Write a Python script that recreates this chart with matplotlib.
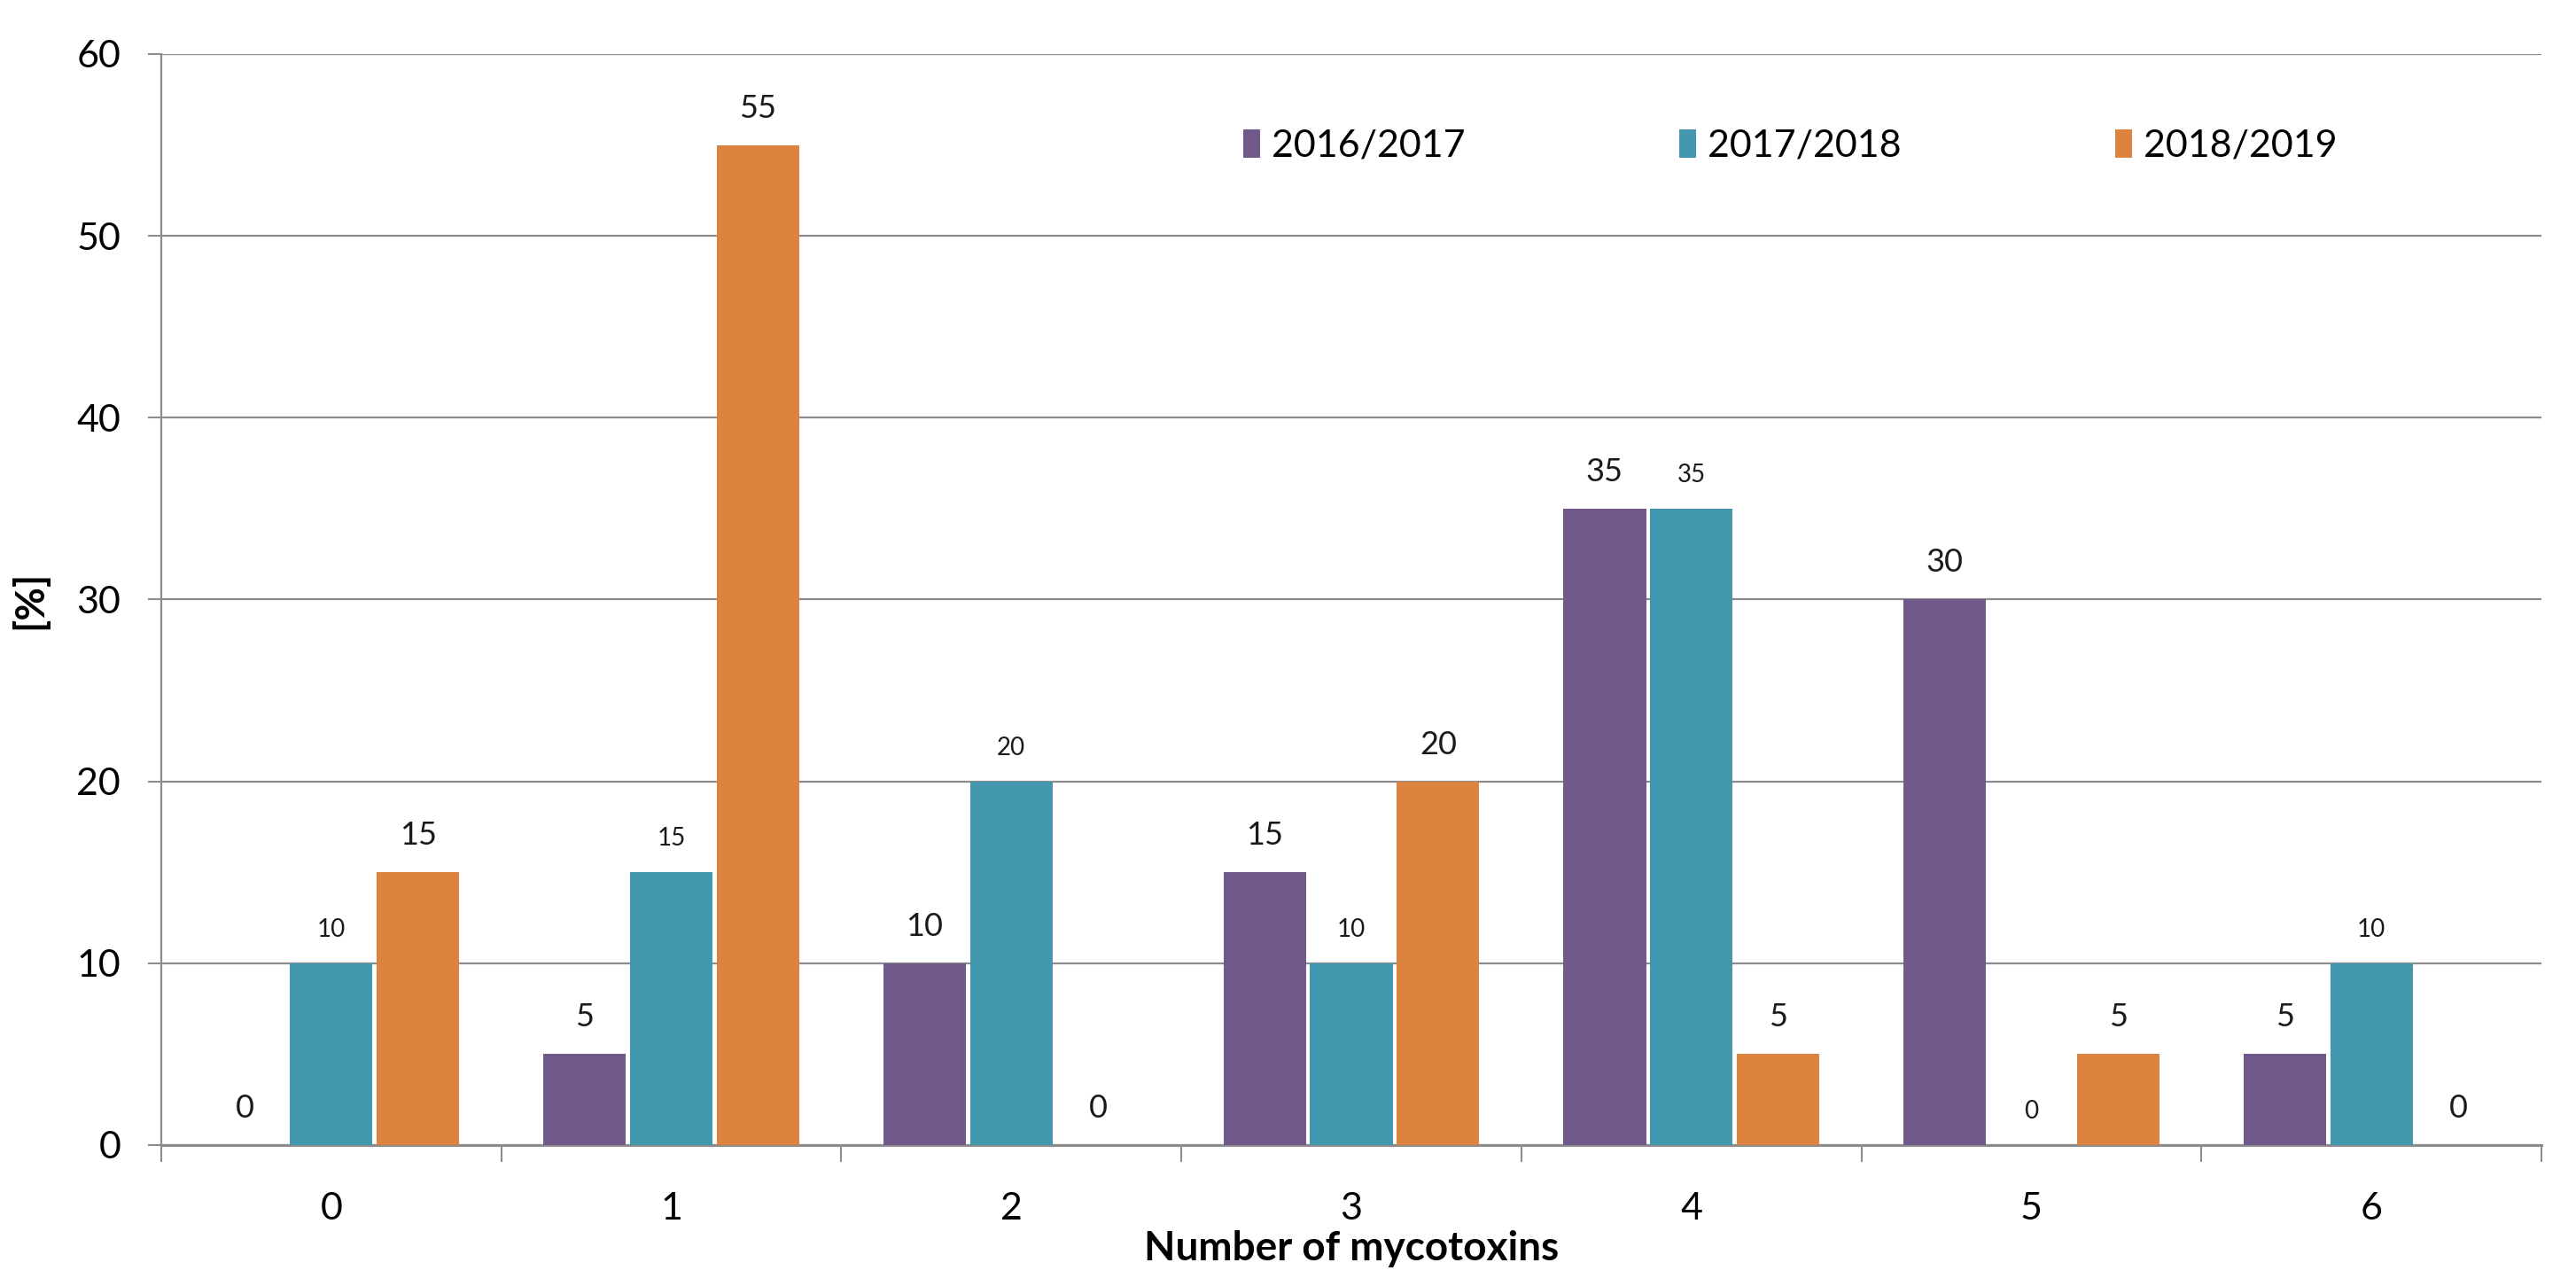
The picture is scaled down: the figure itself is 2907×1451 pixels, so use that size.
import matplotlib
matplotlib.use('Agg')
import matplotlib.pyplot as plt
import numpy as np

# Number of mycotoxins (categories) and share of samples per season
categories = ['0', '1', '2', '3', '4', '5', '6']
seasons = ['2016/2017', '2017/2018', '2018/2019']
s2016 = [0, 5, 10, 15, 35, 30, 5]
s2017 = [10, 15, 20, 10, 35, 0, 10]
s2018 = [15, 55, 0, 20, 5, 5, 0]
y_ticks = [0, 10, 20, 30, 40, 50, 60]

colors = ['#72598C', '#4398AF', '#DB833F']
label_sizes = [26, 20, 26]

plt.rcParams['font.family'] = ['Lato', 'DejaVu Sans']

fig = plt.figure(figsize=(29.07, 14.51), dpi=100)
ax = fig.add_axes([0.0626, 0.1096, 0.924, 0.8484])

x = np.arange(len(categories))
offsets = [-0.255, 0.0, 0.255]
width = 0.243

for vals, off, col, name, fs in zip([s2016, s2017, s2018], offsets, colors, seasons, label_sizes):
    bars = ax.bar(x + off, vals, width, color=col, label=name, zorder=3)
    for b, v in zip(bars, vals):
        ax.annotate(str(v), (b.get_x() + b.get_width() / 2, v),
                    xytext=(0, 18), textcoords='offset points',
                    ha='center', va='bottom', fontsize=fs, color='#1a1a1a')

ax.set_xlim(-0.5, len(categories) - 0.5)
ax.set_ylim(0, 60)
ax.set_yticks(y_ticks)
ax.tick_params(axis='y', labelsize=31, length=11, width=1.5, color='#8C8C8C', pad=22)
ax.yaxis.grid(True, color='#8C8C8C', linewidth=1.6, zorder=0)
ax.set_axisbelow(True)

# category labels at centres, tick marks at the boundaries
ax.set_xticks(x)
ax.set_xticklabels(categories)
ax.set_xticks(np.arange(-0.5, len(categories)), minor=True)
ax.tick_params(axis='x', which='major', length=0, labelsize=31, pad=38)
ax.tick_params(axis='x', which='minor', length=14, width=1.5, color='#8C8C8C')

for s in ['top', 'right']:
    ax.spines[s].set_visible(False)
ax.spines['left'].set_color('#8C8C8C')
ax.spines['left'].set_linewidth(1.6)
ax.spines['bottom'].set_color('#8C8C8C')
ax.spines['bottom'].set_linewidth(2.2)

ax.set_xlabel('Number of mycotoxins', fontsize=33, fontweight='bold', labelpad=4)
ax.set_ylabel('[%]', fontsize=33, fontweight='bold', labelpad=22)

ax.legend(loc='center left', bbox_to_anchor=(0.4546, 0.9155), ncol=3, frameon=False,
          fontsize=31, handlelength=0.45, handleheight=0.75, handletextpad=0.3,
          columnspacing=5.6, borderpad=0, borderaxespad=0)

fig.savefig('out.png', dpi=100)
